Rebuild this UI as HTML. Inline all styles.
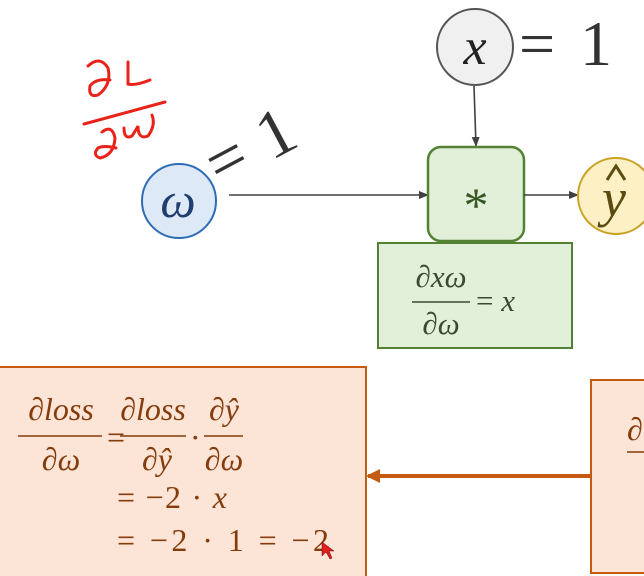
<!DOCTYPE html>
<html><head><meta charset="utf-8"><style>
html,body{margin:0;padding:0;background:#fff;}
svg{display:block;}
text{font-family:"Liberation Serif",serif;}
</style></head><body>
<svg width="644" height="576" viewBox="0 0 644 576" xmlns="http://www.w3.org/2000/svg">
<defs>
<marker id="ah" markerWidth="10" markerHeight="10" refX="9" refY="5" orient="auto" markerUnits="userSpaceOnUse"><path d="M0,1 L10,5 L0,9 z" fill="#404040"/></marker>
<marker id="oh" markerWidth="14" markerHeight="14" refX="12" refY="7" orient="auto" markerUnits="userSpaceOnUse"><path d="M0,0 L14,7 L0,14 z" fill="#c55a11"/></marker>
</defs>
<rect width="644" height="576" fill="#fff"/>
<g fill="none" stroke="#e8231a" stroke-width="3" stroke-linecap="round">
<path d="M88,66 Q100,55 108,68 Q112,85 98,95 Q88,98 90,86 Q96,78 110,80"/>
<path d="M128,62 L128,84 Q135,86 150,80"/>
<path d="M84,124 L165,102"/>
<path d="M102,132 Q112,124 115,138 Q114,155 100,158 Q92,155 98,148 Q104,145 116,148"/>
<path d="M124,128 Q124,140 132,136 Q136,130 138,126 Q138,140 148,136 Q156,125 152,115"/>
</g>
<circle cx="179" cy="201" r="37" fill="#dde9f7" stroke="#2e6db4" stroke-width="2"/>
<text x="178" y="217" font-size="50" font-style="italic" fill="#1f3f6e" text-anchor="middle">ω</text>
<text x="0" y="0" font-size="68" fill="#333" transform="translate(220,188) rotate(-28)" textLength="92">= 1</text>
<line x1="229" y1="195" x2="428" y2="195" stroke="#404040" stroke-width="1.6" marker-end="url(#ah)"/>
<circle cx="475" cy="47" r="38" fill="#f0f0f0" stroke="#555" stroke-width="2"/>
<text x="475" y="64" font-size="52" font-style="italic" fill="#222" text-anchor="middle">x</text>
<text x="519" y="65" font-size="64" fill="#333" textLength="93">= 1</text>
<line x1="474" y1="86" x2="476" y2="146" stroke="#404040" stroke-width="1.6" marker-end="url(#ah)"/>
<rect x="428" y="147" width="96" height="94" rx="13" fill="#e2efd9" stroke="#548235" stroke-width="2.5"/>
<text x="476" y="222" font-size="50" fill="#385723" text-anchor="middle" font-family="Liberation Sans,sans-serif">*</text>
<line x1="524" y1="195" x2="578" y2="195" stroke="#404040" stroke-width="1.6" marker-end="url(#ah)"/>
<circle cx="616" cy="196" r="38" fill="#fdf0c4" stroke="#c9a227" stroke-width="2"/>
<text x="614" y="216" font-size="54" font-style="italic" fill="#5a4a10" text-anchor="middle">y</text>
<path d="M607,180 L616,166 L625,180" fill="none" stroke="#5a4a10" stroke-width="3"/>
<rect x="378" y="243" width="194" height="105" fill="#e2efd9" stroke="#548235" stroke-width="2"/>
<text x="441" y="287" font-size="31" font-style="italic" fill="#3a4a30" text-anchor="middle">∂xω</text>
<line x1="412" y1="302" x2="470" y2="302" stroke="#3a4a30" stroke-width="1.5"/>
<text x="441" y="334" font-size="31" font-style="italic" fill="#3a4a30" text-anchor="middle">∂ω</text>
<text x="476" y="311" font-size="31" fill="#3a4a30">= <tspan font-style="italic">x</tspan></text>
<rect x="-2" y="367" width="368" height="212" fill="#fce4d6" stroke="#c55a11" stroke-width="2"/>
<rect x="591" y="380" width="60" height="193" fill="#fce4d6" stroke="#c55a11" stroke-width="2"/>
<text x="627" y="440" font-size="32" font-style="italic" fill="#843c0c">∂</text>
<line x1="627" y1="452" x2="644" y2="452" stroke="#843c0c" stroke-width="1.5"/>
<line x1="591" y1="476" x2="368" y2="476" stroke="#c55a11" stroke-width="4" marker-end="url(#oh)"/>
<g fill="#843c0c" font-size="32" font-style="italic">
<text x="61" y="420" text-anchor="middle">∂loss</text>
<line x1="18" y1="436" x2="102" y2="436" stroke="#843c0c" stroke-width="1.5"/>
<text x="61" y="470" text-anchor="middle">∂ω</text>
<text x="107" y="448" font-style="normal">=</text>
<text x="153" y="420" text-anchor="middle">∂loss</text>
<line x1="120" y1="436" x2="186" y2="436" stroke="#843c0c" stroke-width="1.5"/>
<text x="157" y="470" text-anchor="middle">∂ŷ</text>
<text x="190" y="448" font-style="normal">·</text>
<text x="224" y="420" text-anchor="middle">∂ŷ</text>
<line x1="204" y1="436" x2="243" y2="436" stroke="#843c0c" stroke-width="1.5"/>
<text x="224" y="470" text-anchor="middle">∂ω</text>
<text x="117" y="508" font-style="normal" textLength="110">= −2 · <tspan font-style="italic">x</tspan></text>
<text x="117" y="551" font-style="normal" textLength="212">= −2 · 1 = −2</text>
</g>
<path d="M322,542 L322,556 L326,552 L330,559 L332,558 L329,551 L334,551 z" fill="#e02020" stroke="#600" stroke-width="0.5"/>
</svg>
</body></html>
